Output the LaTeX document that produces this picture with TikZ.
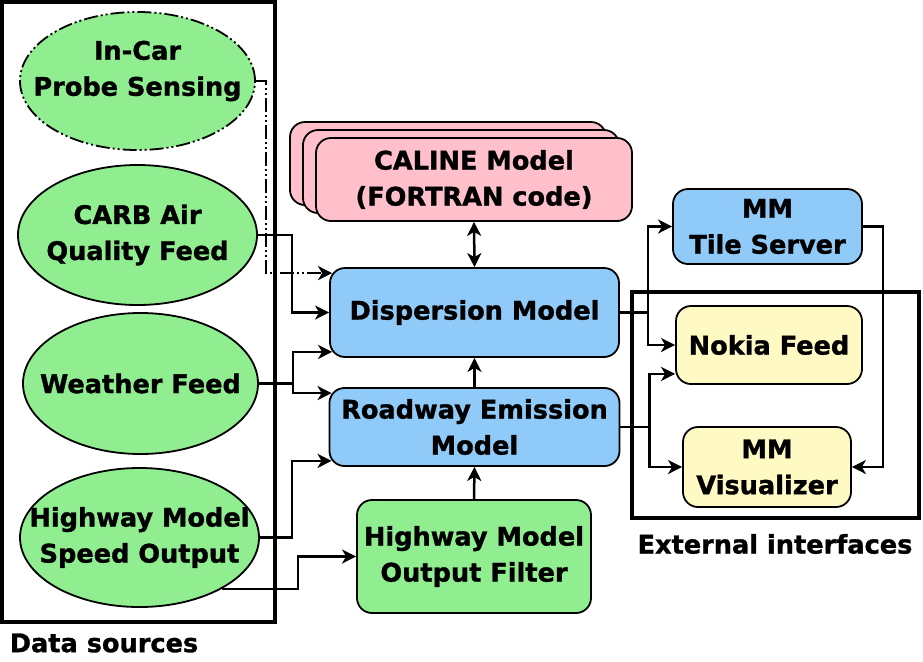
\documentclass[tikz,border=0pt]{standalone}
\usepackage{fontspec}
\setmainfont{DejaVu Sans}[BoldFeatures={FakeBold=1.2}]
\usetikzlibrary{shapes.geometric,arrows.meta,calc}
\definecolor{srcgreen}{RGB}{144,238,144}
\definecolor{modelblue}{RGB}{144,202,249}
\definecolor{calpink}{RGB}{255,192,203}
\definecolor{extyellow}{RGB}{255,249,196}
\begin{document}
\begin{tikzpicture}[x=0.5pt,y=-0.5pt,
	every node/.style={font=\fontsize{12.8}{18}\selectfont\bfseries, align=center},
	>={Stealth[length=7pt,width=7pt,inset=2pt]},
	src/.style={ellipse, draw, line width=0.9pt, fill=srcgreen, inner sep=0pt},
	model/.style={rectangle, rounded corners=7.5pt, draw, line width=0.9pt, fill=modelblue, inner sep=0pt},
	calbox/.style={model, fill=calpink, minimum width=158pt, minimum height=41.5pt},
	extbox/.style={model, fill=extyellow},
	link/.style={line width=1.25pt, ->},
	dashdot/.style={dash pattern=on 7pt off 1.5pt on 1pt off 1.5pt on 1pt off 1.5pt},
	groupframe/.style={line width=1.75pt}]
	\useasboundingbox (0,0) rectangle (923,661);

	\draw[groupframe] (2,2) rectangle (275,622);
	\draw[groupframe] (632,292) rectangle (919,518);
	\node (srclbl) at (104,643) {Data sources};
	\node (extlbl) at (775,544) {External interfaces};

	\node[src, dashdot, minimum width=117.5pt, minimum height=69pt,
		label={[yshift=5pt]center:In-Car\\Probe Sensing}] (incar) at (137.5,81) {};
	\node[src, minimum width=119.5pt, minimum height=70pt,
		label={center:CARB Air\\Quality Feed}] (carb) at (137.5,235) {};
	\node[src, minimum width=117.5pt, minimum height=70.5pt,
		label={center:Weather Feed}] (wthr) at (140.5,383.5) {};
	\node[src, minimum width=119.5pt, minimum height=69.5pt,
		label={center:Highway Model\\Speed Output}] (hwy) at (139.5,537.5) {};

	\node[calbox] (caline3) at (448,163.5) {};
	\node[calbox] (caline2) at (461,171.5) {};
	\node[calbox] (caline) at (474,179.5) {CALINE Model\\(FORTRAN code)};
	\node[model, minimum width=144.5pt, minimum height=44.5pt] (disp) at (474.5,312.5) {Dispersion Model};
	\node[model, minimum width=145pt, minimum height=39pt] (road) at (474.5,427) {Roadway Emission\\Model};
	\node[model, fill=srcgreen, minimum width=117pt, minimum height=56.5pt] (filt) at (474,556.5) {Highway Model\\Output Filter};

	\node[model, minimum width=94.5pt, minimum height=37.5pt] (tile) at (767.5,226.5) {MM\\Tile Server};
	\node[extbox, minimum width=93pt, minimum height=39pt] (nokia) at (769,345) {Nokia Feed};
	\node[extbox, minimum width=84pt, minimum height=40pt] (vis) at (767,467) {MM\\Visualizer};

	\draw[link, dashdot] (incar.east) -- ++(10,0) |- ($(disp.north west)+(3,6)$);
	\draw[link] (carb.east) -- ++(34,0) |- (disp.west);
	\draw[link] (wthr.east) -- ++(34,0) |- ($(disp.south west)+(3,-6)$);
	\draw[link] (wthr.east) -- ++(34,0) |- ($(road.north west)+(3,6)$);
	\draw[link] (hwy.east) -- ++(32,0) |- ($(road.south west)+(3,-6)$);
	\draw[link] (hwy.-32) -- ++(76,0) |- (filt.west);
	\draw[link] (filt.north) -- (road.south);
	\draw[link] (road.north) -- (disp.south);
	\draw[link, <->] (caline.south) -- (disp.north);

	\draw[link] (disp.east) -- ++(28,0) |- (tile.west);
	\draw[link] (disp.east) -- ++(28,0) |- (nokia.west);
	\draw[link] (road.east) -- ++(29,0) |- ($(nokia.south west)+(0,-11)$);
	\draw[link] (road.east) -- ++(29,0) |- (vis.west);
	\draw[link] (tile.east) -- ++(20,0) |- (vis.east);
\end{tikzpicture}
\end{document}
